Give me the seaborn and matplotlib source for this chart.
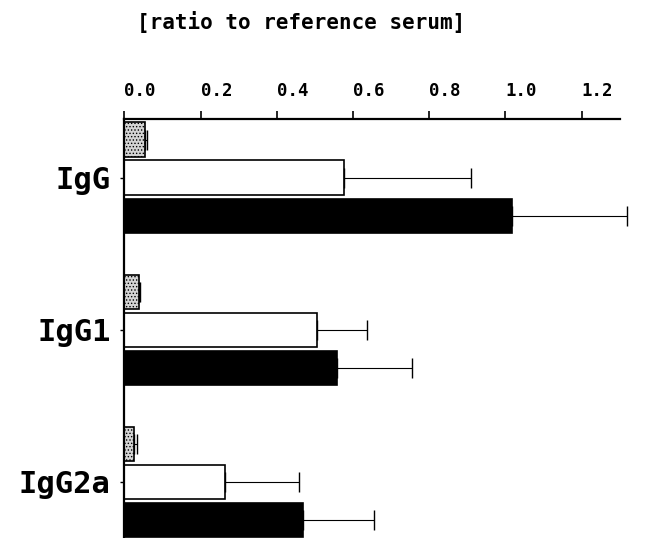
import numpy as np
import matplotlib.pyplot as plt
import pandas as pd
import seaborn as sns

sns.set_theme(style="white")
plt.rcParams['font.family'] = ['DejaVu Sans Mono', 'DejaVu Sans']
plt.rcParams['text.color'] = 'black'
plt.rcParams['xtick.color'] = 'black'
plt.rcParams['ytick.color'] = 'black'
plt.rcParams['hatch.color'] = '#444444'
plt.rcParams['hatch.linewidth'] = 0.6

isotypes = ['IgG', 'IgG1', 'IgG2a']
groups = ['control', 'group 1', 'group 2']
control = [0.055, 0.038, 0.026]
control_err = [0.004, 0.004, 0.006]
group1 = [0.576, 0.506, 0.263]
group1_err = [0.334, 0.130, 0.196]
group2 = [1.017, 0.557, 0.468]
group2_err = [0.303, 0.198, 0.187]
xticks = [0.0, 0.2, 0.4, 0.6, 0.8, 1.0, 1.2]

df = pd.DataFrame({
    'isotype': isotypes * 3,
    'group': np.repeat(groups, 3),
    'ratio': control + group1 + group2,
})
errs = [control_err, group1_err, group2_err]

fig = plt.figure(figsize=(6.49, 5.38), dpi=100)
ax = fig.add_axes([0.1918, 0.0, 0.763, 0.7788])

sns.barplot(data=df, x='ratio', y='isotype', hue='group', orient='h',
            palette=['#d4d4d4', 'white', 'black'], width=0.75, gap=0.1,
            edgecolor='black', linewidth=1.2, legend=False, errorbar=None, ax=ax)

for bar in ax.containers[0]:
    bar.set_hatch('.....')

for cont, err in zip(ax.containers, errs):
    ys = [b.get_y() + b.get_height() / 2 for b in cont]
    xs = [b.get_width() for b in cont]
    eb = ax.errorbar(xs, ys, xerr=[np.zeros(len(err)), err], fmt='none',
                     ecolor='black', elinewidth=0.8, capsize=7, capthick=1.0)
    for art in eb.lines[1] + eb.lines[2]:
        art.set_clip_on(False)

ax.set_xlim(0, 1.3)
ax.set_ylim(2.368, -0.385)
ax.xaxis.tick_top()
ax.set_xticks(xticks)
ax.set_xticklabels([f'{t:.1f}' for t in xticks], ha='left',
                   fontsize=12.5, fontweight='bold')
ax.tick_params(axis='x', top=True, direction='out', length=6, width=1.2, pad=8)
ax.tick_params(axis='y', left=True, direction='out', length=3, width=1, pad=7)
ax.set_yticks(range(len(isotypes)))
ax.set_yticklabels(isotypes, fontsize=22, fontweight='bold')
ax.set_xlabel('')
ax.set_ylabel('')

for s in ['right', 'bottom']:
    ax.spines[s].set_visible(False)
for s in ['top', 'left']:
    ax.spines[s].set_color('black')
    ax.spines[s].set_linewidth(1.6)

fig.text(0.464, 0.96, '[ratio to reference serum]', ha='center', va='center',
         fontsize=15, fontweight='bold')

fig.savefig('out.png', dpi=100)
